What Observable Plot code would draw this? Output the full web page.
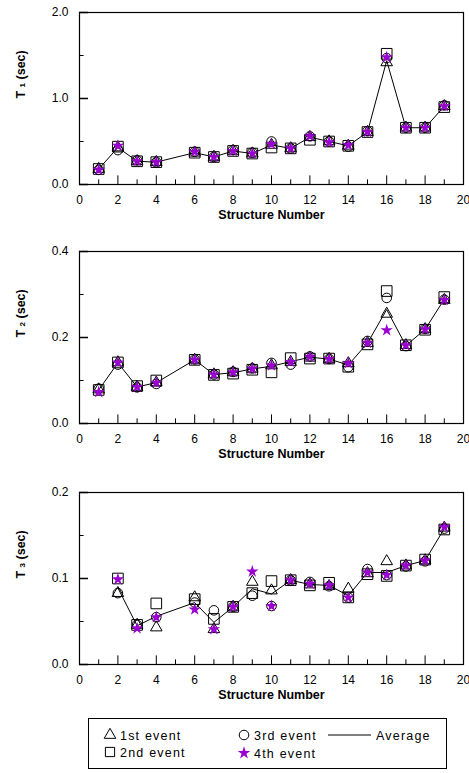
<!DOCTYPE html>
<html><head><meta charset="utf-8">
<script src="https://cdn.jsdelivr.net/npm/d3@7"></script>
<script src="https://cdn.jsdelivr.net/npm/@observablehq/plot@0.6"></script>
<style>
body{margin:0;background:#fff;font-family:"Liberation Sans",Arial,sans-serif;}
#wrap{position:relative;width:469px;height:773px;overflow:hidden;background:#fff}
.panel{position:absolute;left:0}
#legend{position:absolute;left:88px;top:718px}
</style></head><body><div id="wrap"></div>
<script>
// ---- data ----
const xTicks = [0,2,4,6,8,10,12,14,16,18,20];
const xMinor = [1,3,5,7,9,11,13,15,17,19];

const struct12 = [1,2,3,4,6,7,8,9,10,11,12,13,14,15,16,17,18,19];
const struct3  = [2,3,4,6,7,8,9,10,11,12,13,14,15,16,17,18,19];

const T1_e1 = [0.18,0.43,0.27,0.26,0.37,0.32,0.39,0.36,0.46,0.42,0.55,0.50,0.45,0.61,1.42,0.66,0.66,0.91];
const T1_e2 = [0.18,0.44,0.27,0.26,0.37,0.32,0.39,0.36,0.43,0.42,0.52,0.50,0.45,0.61,1.52,0.66,0.66,0.90];
const T1_e3 = [0.17,0.40,0.28,0.26,0.38,0.32,0.40,0.37,0.50,0.42,0.56,0.50,0.44,0.62,1.47,0.66,0.66,0.92];
const T1_e4 = [0.17,0.45,0.27,0.26,0.38,0.32,0.39,0.36,0.47,0.42,0.56,0.49,0.46,0.61,1.48,0.66,0.66,0.91];
const T1_avg = [0.18,0.43,0.27,0.26,0.37,0.32,0.39,0.36,0.46,0.42,0.55,0.50,0.45,0.61,1.44,0.66,0.66,0.91];

const T2_e1 = [0.079,0.142,0.085,0.095,0.148,0.114,0.119,0.127,0.135,0.143,0.153,0.150,0.140,0.187,0.255,0.182,0.219,0.287];
const T2_e2 = [0.078,0.142,0.087,0.100,0.148,0.113,0.116,0.125,0.119,0.152,0.151,0.151,0.132,0.184,0.308,0.182,0.218,0.294];
const T2_e3 = [0.081,0.137,0.084,0.092,0.149,0.114,0.120,0.128,0.141,0.137,0.156,0.150,0.131,0.192,0.292,0.180,0.220,0.288];
const T2_e4 = [0.073,0.142,0.085,0.095,0.148,0.114,0.119,0.127,0.135,0.143,0.155,0.150,0.140,0.187,0.217,0.182,0.219,0.287];
const T2_avg = [0.078,0.141,0.085,0.095,0.148,0.114,0.118,0.127,0.133,0.144,0.154,0.150,0.136,0.187,0.265,0.181,0.219,0.289];

const T3_e1 = [0.083,0.046,0.043,0.078,0.041,0.067,0.096,0.086,0.098,0.093,0.091,0.088,0.106,0.120,0.115,0.121,0.159];
const T3_e2 = [0.100,0.046,0.071,0.076,0.053,0.067,0.083,0.097,0.098,0.092,0.095,0.078,0.105,0.103,0.115,0.122,0.157];
const T3_e3 = [0.083,0.046,0.055,0.072,0.063,0.067,0.080,0.068,0.098,0.096,0.091,0.078,0.111,0.104,0.114,0.120,0.158];
const T3_e4 = [0.099,0.042,0.055,0.064,0.041,0.067,0.108,0.068,0.098,0.094,0.092,0.078,0.107,0.104,0.115,0.121,0.160];
const T3_avg = [0.089,0.045,0.056,0.072,0.049,0.067,0.088,0.082,0.098,0.093,0.092,0.080,0.107,0.107,0.115,0.121,0.158];

const panels = [
  {sub:"1", structures:struct12, e:[T1_e1,T1_e2,T1_e3,T1_e4], avg:T1_avg, ymax:2.0, yTicks:[0,1,2], yMinor:[0.5,1.5]},
  {sub:"2", structures:struct12, e:[T2_e1,T2_e2,T2_e3,T2_e4], avg:T2_avg, ymax:0.4, yTicks:[0,0.2,0.4], yMinor:[0.1,0.3]},
  {sub:"3", structures:struct3,  e:[T3_e1,T3_e2,T3_e3,T3_e4], avg:T3_avg, ymax:0.2, yTicks:[0,0.1,0.2], yMinor:[0.05,0.15]}
];
const eventNames = ["1st event","2nd event","3rd event","4th event"];
const purple = "#9a00d0";
const FONT = '"Liberation Sans", Arial, sans-serif';

const wrap = document.getElementById("wrap");
const tops = [0, 239, 480];

panels.forEach((p, k) => {
  const rows = arr => p.structures.map((s,i) => ({s, v: arr[i]}));
  const ym = p.ymax;
  const chart = Plot.plot({
    width: 469, height: 240,
    marginLeft: 79, marginRight: 6, marginTop: 12, marginBottom: 56,
    x: {domain: [0,20], label: null},
    y: {domain: [0, ym], label: null},
    style: {fontFamily: FONT, fontSize: "12px", color: "#000", background: "transparent", overflow: "visible"},
    marks: [
      Plot.frame({stroke: "#000", strokeWidth: 1.2}),
      Plot.ruleX(xTicks, {x: d => d, y1: 0, y2: ym*0.05, stroke: "#000"}),
      Plot.ruleX(xMinor, {x: d => d, y1: 0, y2: ym*0.027, stroke: "#000"}),
      Plot.ruleY(p.yTicks, {y: d => d, x1: 0, x2: 0.47, stroke: "#000", strokeWidth: 1.5}),
      Plot.ruleY(p.yMinor, {y: d => d, x1: 0, x2: 0.24, stroke: "#000"}),
      Plot.axisX(xTicks, {tickSize: 0, tickPadding: 11, fontSize: 12, letterSpacing: 0.5, label: null}),
      Plot.axisY(p.yTicks, {tickSize: 0, tickPadding: 11, tickFormat: d3.format(".1f"), fontSize: 12, label: null}),
      Plot.text(["Structure Number"], {frameAnchor: "bottom", dy: 34, fontWeight: "bold", fontSize: 12.5, letterSpacing: 0.7}),
      Plot.text(["T " + p.sub + " (sec)"], {frameAnchor: "left", dx: -59, rotate: -90, fontWeight: "bold", fontSize: 12.5}),
      Plot.line(rows(p.avg), {x: "s", y: "v", stroke: "#000", strokeWidth: 1}),
      Plot.dot(rows(p.e[1]), {x: "s", y: "v", symbol: "square", r: 6, stroke: "#000", fill: "none", strokeWidth: 1}),
      Plot.dot(rows(p.e[2]), {x: "s", y: "v", symbol: "circle", r: 4.8, stroke: "#000", fill: "none", strokeWidth: 1}),
      Plot.dot(rows(p.e[0]), {x: "s", y: "v", symbol: "triangle", r: 4.3, stroke: "#000", fill: "none", strokeWidth: 1}),
      Plot.dot(rows(p.e[3]), {x: "s", y: "v", symbol: "star", r: 3.9, fill: purple, stroke: "none"})
    ]
  });
  // subscript on y label
  d3.select(chart).selectAll("text").each(function() {
    const t = d3.select(this);
    if (t.text() === "T " + p.sub + " (sec)") {
      t.text(null);
      t.append("tspan").text("T ");
      t.append("tspan").attr("font-size", 8).text(p.sub);
      t.append("tspan").text(" (sec)");
    }
  });
  chart.classList.add("panel");
  chart.style.top = tops[k] + "px";
  chart.style.position = "absolute";
  wrap.appendChild(chart);
});

// ---- legend ----
const lg = d3.select(wrap).append("svg").attr("id","legend")
  .attr("width", 360).attr("height", 51).style("font-family", FONT);
lg.append("rect").attr("x",0.5).attr("y",0.5).attr("width",358).attr("height",50)
  .attr("fill","#fff").attr("stroke","#000");
const sym = (type, size) => d3.symbol(type, size)();
const items = [
  {name: eventNames[0], type: d3.symbolTriangle, size: 58, x: 22, y: 17, fill: "none", stroke: "#000"},
  {name: eventNames[1], type: d3.symbolSquare,   size: 85, x: 22, y: 34, fill: "none", stroke: "#000"},
  {name: eventNames[2], type: d3.symbolCircle,   size: 72, x: 156, y: 17, fill: "none", stroke: "#000"},
  {name: eventNames[3], type: d3.symbolStar,     size: 50, x: 156, y: 35, fill: purple, stroke: "none"}
];
items.forEach(it => {
  lg.append("path").attr("d", sym(it.type, it.size))
    .attr("transform", `translate(${it.x},${it.y})`)
    .attr("fill", it.fill).attr("stroke", it.stroke);
  lg.append("text").attr("x", it.x + 10).attr("y", it.y + 4.5)
    .attr("font-size", 12.5).attr("letter-spacing", 1.2).text(it.name);
});
lg.append("line").attr("x1", 240).attr("x2", 283).attr("y1", 17).attr("y2", 17).attr("stroke", "#000");
lg.append("text").attr("x", 288).attr("y", 21.5).attr("font-size", 12.5).attr("letter-spacing", 1.2).text("Average");
</script></body></html>
